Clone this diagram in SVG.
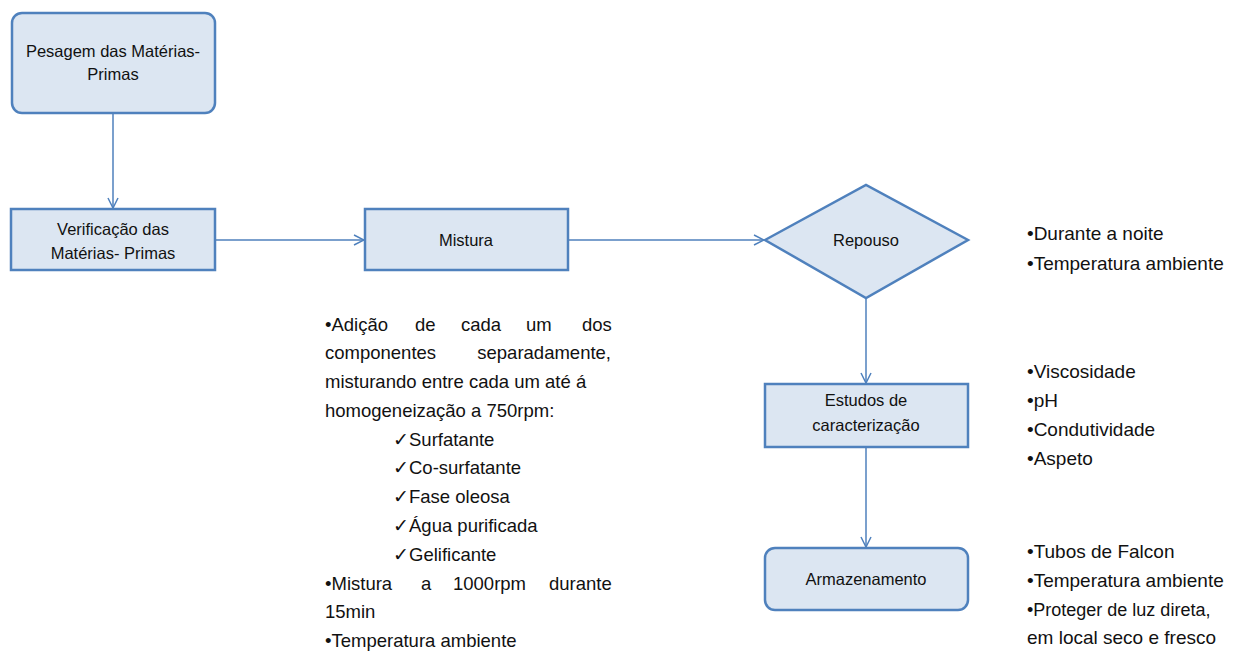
<svg xmlns="http://www.w3.org/2000/svg" width="1238" height="653" viewBox="0 0 1238 653">
<defs>
<style>
.box{fill:#dce6f2;stroke:#4f81bd;stroke-width:2.5}
.lbl{font-family:"Liberation Sans",Arial,sans-serif;font-size:16.5px;fill:#111;text-anchor:middle}
.side{font-family:"Liberation Sans",Arial,sans-serif;font-size:18.5px;fill:#111}
.rs{font-family:"Liberation Sans",Arial,sans-serif;font-size:19px;fill:#111}
.e{text-anchor:end}
.conn{stroke:#4f81bd;stroke-width:1.5;fill:none}
</style>
<marker id="arr" viewBox="0 0 12 12" markerWidth="12" markerHeight="12" refX="11" refY="6" orient="auto" markerUnits="userSpaceOnUse">
<path d="M1,1 L11,6 L1,11" fill="none" stroke="#4f81bd" stroke-width="1.5"/>
</marker>
</defs>
<rect width="1238" height="653" fill="#fff"/>
<g id="connectors">
<line class="conn" x1="113" y1="114" x2="113" y2="208" marker-end="url(#arr)"/>
<line class="conn" x1="216" y1="240" x2="364" y2="240" marker-end="url(#arr)"/>
<line class="conn" x1="569" y1="240" x2="764" y2="240" marker-end="url(#arr)"/>
<line class="conn" x1="866" y1="298" x2="866" y2="383" marker-end="url(#arr)"/>
<line class="conn" x1="866" y1="447" x2="866" y2="547" marker-end="url(#arr)"/>
</g>
<g id="pesagem">
<rect x="12" y="13" width="203" height="100" rx="10" class="box" stroke-width="3.5" stroke="#4a7ab5"/>
<text class="lbl" x="113" y="57">Pesagem das Matérias-</text>
<text class="lbl" x="113" y="80">Primas</text>
</g>
<g id="verificacao">
<rect x="11" y="209" width="204" height="61" class="box"/>
<text class="lbl" x="113" y="235">Verificação das</text>
<text class="lbl" x="113" y="259">Matérias- Primas</text>
</g>
<g id="mistura">
<rect x="365" y="209" width="203" height="61" class="box"/>
<text class="lbl" x="466" y="246">Mistura</text>
</g>
<g id="repouso">
<polygon points="765,240 866,185 968,240 866,298" class="box"/>
<text class="lbl" x="866" y="246">Repouso</text>
</g>
<g id="estudos">
<rect x="765" y="384" width="203" height="63" class="box"/>
<text class="lbl" x="866" y="406">Estudos de</text>
<text class="lbl" x="866" y="431">caracterização</text>
</g>
<g id="armazenamento">
<rect x="765" y="548" width="203" height="62" rx="10" class="box"/>
<text class="lbl" x="866" y="585">Armazenamento</text>
</g>
<g id="mistura-notes" class="side">
<text y="331"><tspan x="325">•Adição</tspan><tspan x="415">de</tspan><tspan x="461">cada</tspan><tspan x="526">um</tspan><tspan x="582">dos</tspan></text>
<text x="325" y="359">componentes</text>
<text class="e" x="611" y="359">separadamente,</text>
<text x="325" y="388">misturando entre cada um até á</text>
<text x="325" y="417">homogeneização a 750rpm:</text>
<text x="393" y="446">✓Surfatante</text>
<text x="393" y="474">✓Co-surfatante</text>
<text x="393" y="503">✓Fase oleosa</text>
<text x="393" y="532">✓Água purificada</text>
<text x="393" y="561">✓Gelificante</text>
<text y="590"><tspan x="325">•Mistura</tspan><tspan x="421">a</tspan><tspan x="453">1000rpm</tspan><tspan x="549">durante</tspan></text>
<text x="325" y="618">15min</text>
<text x="325" y="647">•Temperatura ambiente</text>
</g>
<g id="repouso-notes" class="rs">
<text x="1027" y="240">•Durante a noite</text>
<text x="1027" y="270">•Temperatura ambiente</text>
</g>
<g id="estudos-notes" class="rs">
<text x="1027" y="378">•Viscosidade</text>
<text x="1027" y="407">•pH</text>
<text x="1027" y="436">•Condutividade</text>
<text x="1027" y="465">•Aspeto</text>
</g>
<g id="armazenamento-notes" class="rs">
<text x="1027" y="558">•Tubos de Falcon</text>
<text x="1027" y="587">•Temperatura ambiente</text>
<text x="1027" y="616" font-size="18">•Proteger de luz direta,</text>
<text x="1027" y="644">em local seco e fresco</text>
</g>
</svg>
